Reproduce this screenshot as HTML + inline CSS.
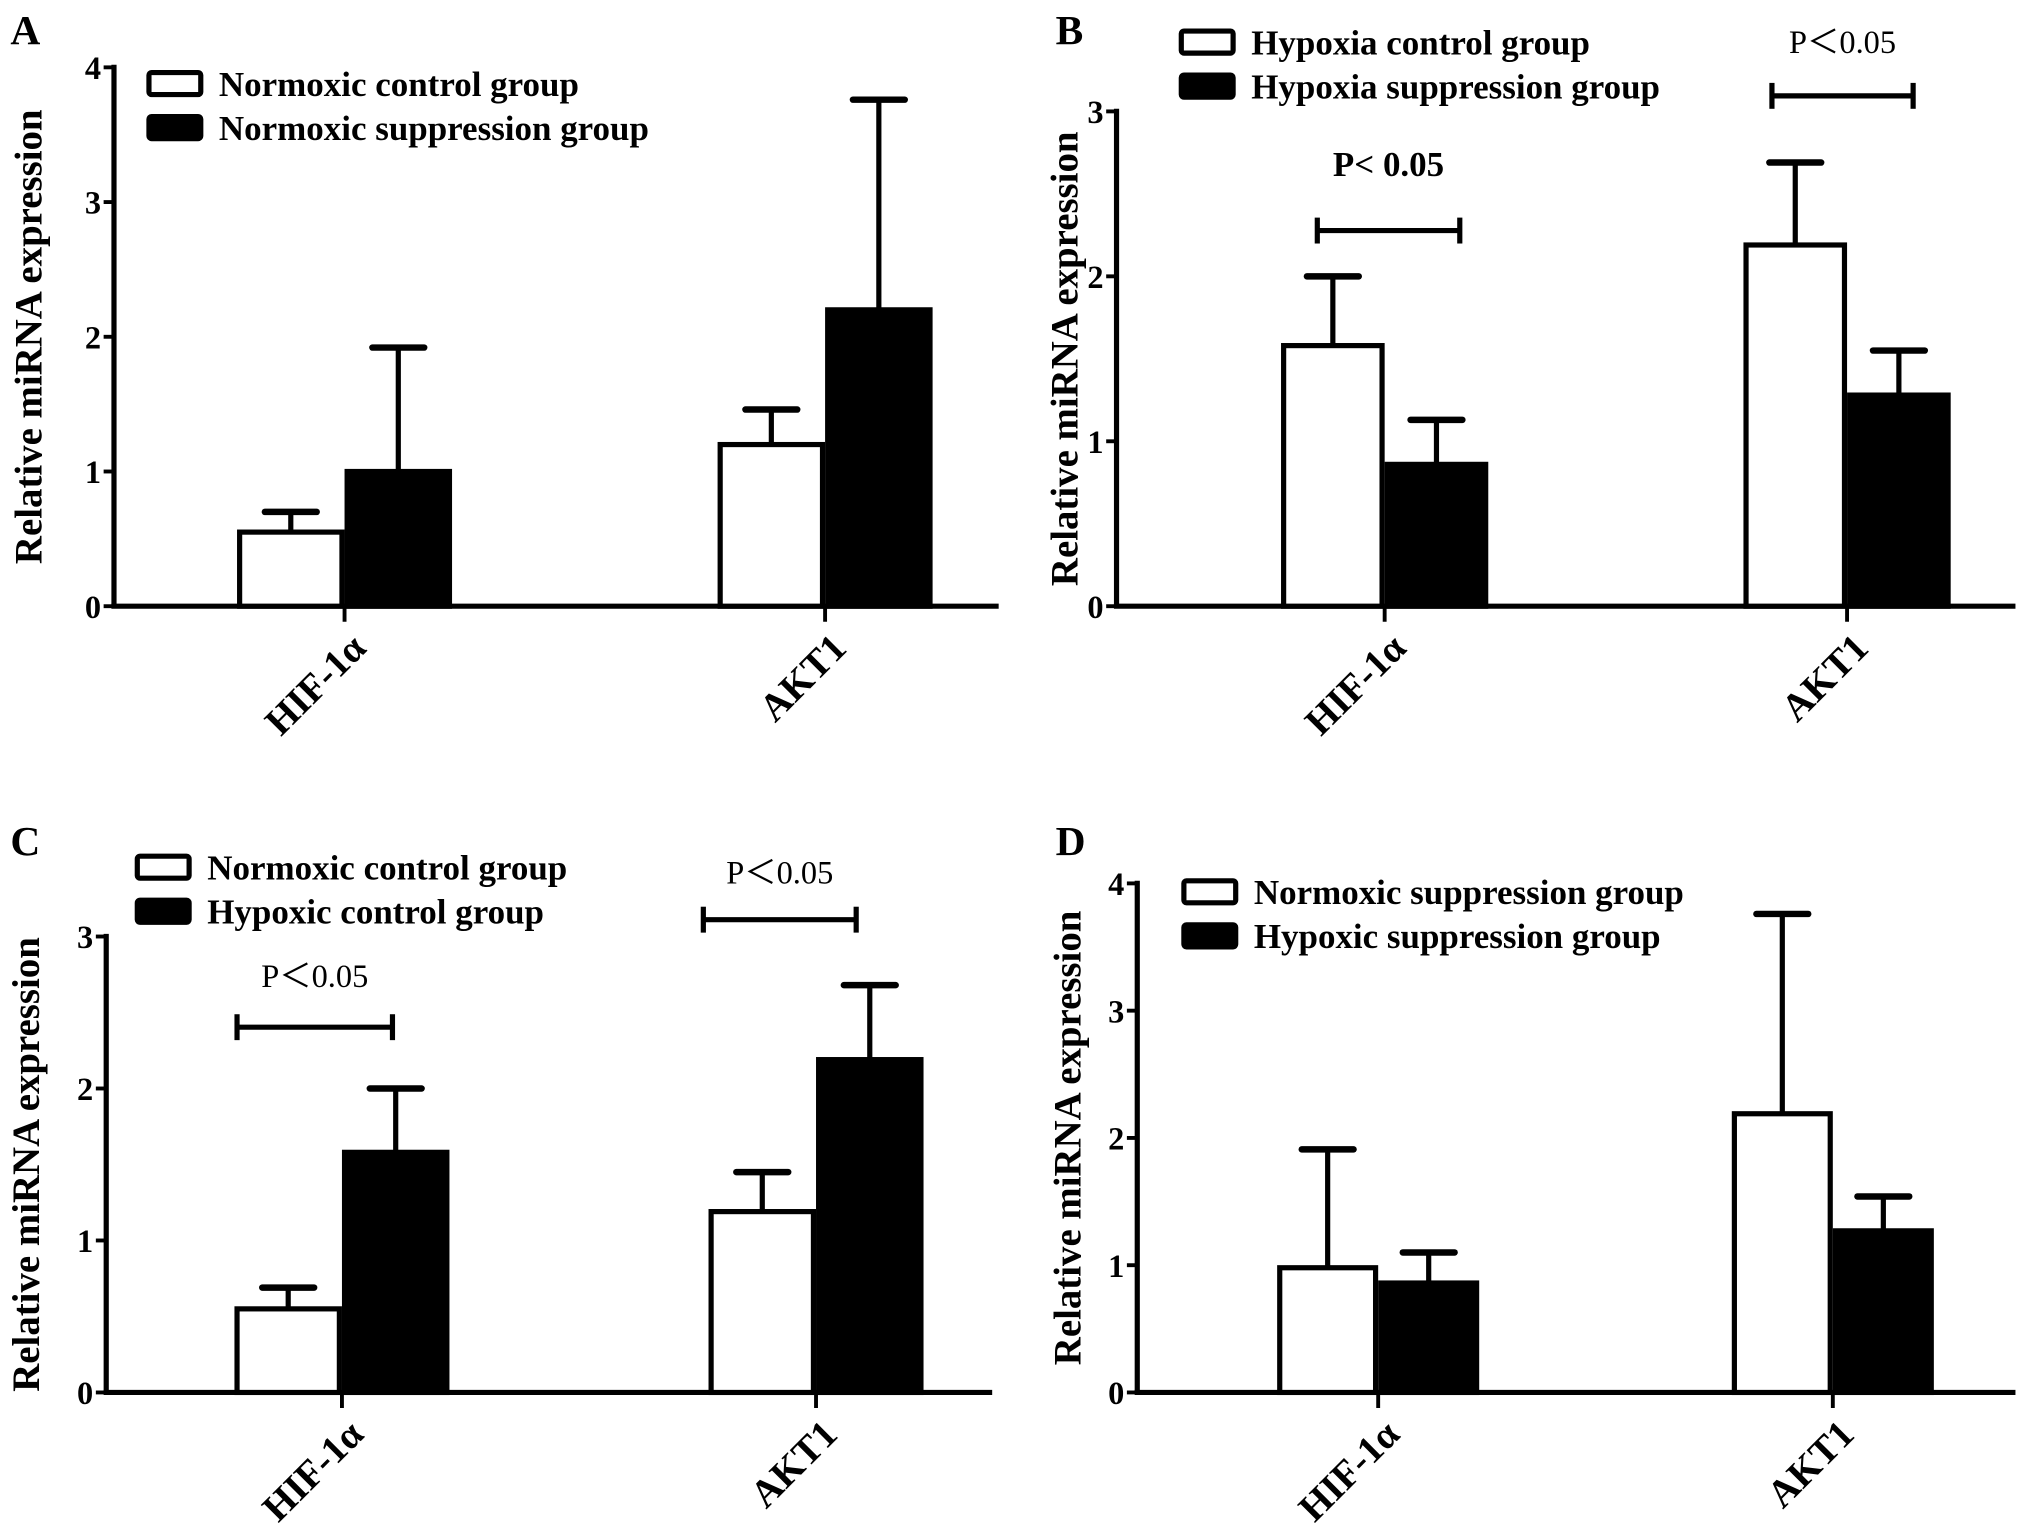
<!DOCTYPE html>
<html><head><meta charset="utf-8"><style>
html,body{margin:0;padding:0;background:#fff}
svg{display:block}
text{font-family:"Liberation Serif",serif;fill:#000}
</style></head><body>
<svg id="fig" width="2031" height="1533" viewBox="0 0 1568 1183.5" preserveAspectRatio="none" xmlns="http://www.w3.org/2000/svg"></svg>
<script>
// ---- data ----
const categories = ["HIF-1α", "AKT1"];
const aLegend = ["Normoxic control group", "Normoxic suppression group"];
const aWhite = [0.55, 1.2];   const aWhiteErr = [0.7, 1.46];
const aBlack = [1.0, 2.2];    const aBlackErr = [1.92, 3.76];
const bLegend = ["Hypoxia control group", "Hypoxia suppression group"];
const bWhite = [1.58, 2.19];  const bWhiteErr = [2.0, 2.69];
const bBlack = [0.86, 1.28];  const bBlackErr = [1.13, 1.55];
const cLegend = ["Normoxic control group", "Hypoxic control group"];
const cWhite = [0.55, 1.19];  const cWhiteErr = [0.69, 1.45];
const cBlack = [1.58, 2.19];  const cBlackErr = [2.0, 2.68];
const dLegend = ["Normoxic suppression group", "Hypoxic suppression group"];
const dWhite = [0.98, 2.19];  const dWhiteErr = [1.91, 3.76];
const dBlack = [0.86, 1.27];  const dBlackErr = [1.1, 1.54];
const ticks4 = [0, 1, 2, 3, 4];
const ticks3 = [0, 1, 2, 3];

const NS = "http://www.w3.org/2000/svg";
const svg = document.getElementById("fig");
function mk(tag, attrs, parent) {
  const e = document.createElementNS(NS, tag);
  for (const k in attrs) e.setAttribute(k, attrs[k]);
  (parent || svg).appendChild(e);
  return e;
}

function panel(cfg) {
  const g = mk("g", {});
  
  
  const yMax = cfg.ticks[cfg.ticks.length - 1];
  const yS = v => cfg.zero - (cfg.zero - cfg.top) * v / yMax;
  const lt = mk("text", {x: cfg.letterX, y: cfg.letterY, "font-size": 32, "font-weight": "bold"}, g);
  lt.textContent = cfg.letter;
  
  
  const ya = mk("line", {x1: cfg.ax, y1: cfg.top - 2, x2: cfg.ax, y2: cfg.zero, stroke: "#000", "stroke-width": 4}, g);
  
  
  const xa = mk("line", {x1: cfg.ax - 2, y1: cfg.zero, x2: cfg.right, y2: cfg.zero, stroke: "#000", "stroke-width": 4}, g);
  
  
  cfg.ticks.forEach(t => {
    const y = yS(t);
    mk("line", {x1: cfg.ax - 8, y1: y, x2: cfg.ax, y2: y, stroke: "#000", "stroke-width": 3}, g);
    const tl = mk("text", {x: cfg.ax - 10, y: y + 9, "font-size": 25, "font-weight": "bold", "text-anchor": "end"}, g);
    tl.textContent = t;
    
    
  });
  const yt = mk("text", {x: 0, y: 0, "font-size": 30, "font-weight": "bold", "text-anchor": "middle",
    transform: `translate(${cfg.titleX},${(cfg.top + cfg.zero) / 2}) rotate(-90)`}, g);
  yt.textContent = "Relative miRNA expression";
  
  
  const bw = cfg.bw;
  categories.forEach((c, i) => {
    const cx = cfg.cat[i];
    mk("line", {x1: cx, y1: cfg.zero, x2: cx, y2: cfg.zero + 12, stroke: "#000", "stroke-width": 3}, g);
    const series = [[cfg.white[i], cfg.whiteErr[i], "#fff", cx - bw], [cfg.black[i], cfg.blackErr[i], "#000", cx]];
    series.forEach((s, j) => {
      const [v, e, fill, x0] = s;
      const mid = x0 + bw / 2;
      const el = mk("line", {x1: mid, y1: yS(v), x2: mid, y2: yS(e), stroke: "#000", "stroke-width": 4}, g);
      
      
      mk("line", {x1: mid - 20, y1: yS(e), x2: mid + 20, y2: yS(e), stroke: "#000", "stroke-width": 5, "stroke-linecap": "round"}, g);
      const r = mk("rect", {x: x0 + 2, y: yS(v), width: bw - 4, height: cfg.zero - yS(v), fill: fill, stroke: "#000", "stroke-width": 4}, g);
      
      
    });
    const cl = mk("text", {x: 0, y: 0, "font-size": 30, "font-weight": "bold", "text-anchor": "end",
      transform: `translate(${cx + 18},${cfg.zero + 34}) rotate(-45)`}, g);
    cl.textContent = c;
    
    
  });
  cfg.legend.forEach((l, k) => {
    const y = cfg.legY + k * 34;
    const sw = mk("rect", {x: cfg.legX, y: y, width: 40, height: 17, fill: k === 0 ? "#fff" : "#000", stroke: "#000", "stroke-width": 4, rx: 2}, g);
    
    
    const lt2 = mk("text", {x: cfg.legX + 54, y: y + 18, "font-size": 27, "font-weight": "bold"}, g);
    lt2.textContent = l;
    
    
  });
  (cfg.sig || []).forEach(s => {
    mk("line", {x1: s.x1, y1: s.y, x2: s.x2, y2: s.y, stroke: "#000", "stroke-width": 4}, g);
    mk("line", {x1: s.x1, y1: s.y - 10, x2: s.x1, y2: s.y + 10, stroke: "#000", "stroke-width": 4}, g);
    mk("line", {x1: s.x2, y1: s.y - 10, x2: s.x2, y2: s.y + 10, stroke: "#000", "stroke-width": 4}, g);
    const st = mk("text", {x: (s.x1 + s.x2) / 2, y: s.ty, "font-size": s.bold ? 27 : 25, "font-weight": s.bold ? "bold" : "normal", "text-anchor": "middle"}, g);
    st.textContent = s.bold ? "P< 0.05" : "P\uFF1C0.05";
    
    
  });
}

panel({letter: "A", letterX: 8, letterY: 34, ax: 88, right: 771, top: 52, zero: 468, ticks: ticks4, titleX: 32,
  cat: [266, 637], bw: 83, white: aWhite, whiteErr: aWhiteErr, black: aBlack, blackErr: aBlackErr,
  legend: aLegend, legX: 115, legY: 56});
panel({letter: "B", letterX: 815, letterY: 34, ax: 862, right: 1556, top: 86, zero: 468, ticks: ticks3, titleX: 832,
  cat: [1069, 1426], bw: 80, white: bWhite, whiteErr: bWhiteErr, black: bBlack, blackErr: bBlackErr,
  legend: bLegend, legX: 912, legY: 24,
  sig: [{x1: 1017, x2: 1127, y: 178, ty: 136, bold: true}, {x1: 1368, x2: 1477, y: 74, ty: 41, bold: false}]});
panel({letter: "C", letterX: 8, letterY: 660, ax: 82, right: 766, top: 723, zero: 1075, ticks: ticks3, titleX: 30,
  cat: [264, 630], bw: 83, white: cWhite, whiteErr: cWhiteErr, black: cBlack, blackErr: cBlackErr,
  legend: cLegend, legX: 106, legY: 661,
  sig: [{x1: 183, x2: 303, y: 793, ty: 762, bold: false}, {x1: 543, x2: 661, y: 710, ty: 682, bold: false}]});
panel({letter: "D", letterX: 815, letterY: 660, ax: 878, right: 1556, top: 682, zero: 1075, ticks: ticks4, titleX: 834,
  cat: [1064, 1415], bw: 78, white: dWhite, whiteErr: dWhiteErr, black: dBlack, blackErr: dBlackErr,
  legend: dLegend, legX: 914, legY: 680});
</script>
</body></html>
